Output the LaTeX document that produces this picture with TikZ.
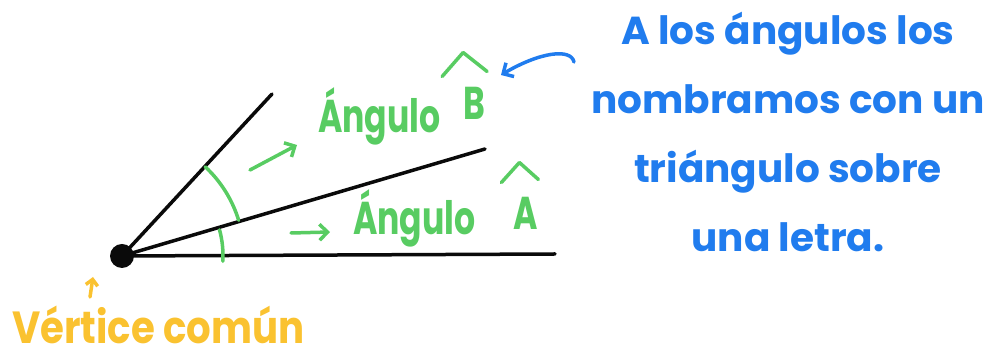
\documentclass[tikz,border=0pt]{standalone}
\usepackage{fontspec}
\newfontfamily\handfont{Poppins}
\newfontfamily\narrowhand[FakeStretch=0.72]{Poppins}
\newfontfamily\midhand[FakeStretch=0.86]{Poppins}
\usetikzlibrary{arrows.meta, positioning}
\definecolor{penblack}{RGB}{10,10,10}
\definecolor{pengreen}{RGB}{88,204,98}
\definecolor{penblue}{RGB}{32,124,238}
\definecolor{penyellow}{RGB}{250,194,48}

\begin{document}
\begin{tikzpicture}[x=1pt, y=1pt,
  every node/.style={inner sep=0pt},
  ray/.style={penblack, line width=3.5pt, line cap=round},
  anglearc/.style={pengreen, line width=3.5pt, line cap=round},
  hat/.style={line width=3.5pt, line cap=round, line join=round},
  pen/.style={line width=3.5pt, line cap=round, line join=round,
    -{Straight Barb[length=8pt, width=16pt]}},
  greentxt/.style={pengreen, font=\narrowhand\bfseries\fontsize{46}{52}\selectfont},
  bluetxt/.style={penblue, align=center, font=\handfont\bfseries\fontsize{39}{69}\selectfont},
  yellowtxt/.style={penyellow, font=\midhand\bfseries\fontsize{45}{52}\selectfont}]

\useasboundingbox (0,0) rectangle (997,358);

\node[circle, fill=penblack, minimum size=24pt] (V) at (122,102) {};
\coordinate (rayA) at (555,104);
\coordinate (rayM) at (485,209);
\coordinate (rayB) at (272,264);
\draw[ray] (V.center) -- (rayA);
\draw[ray] (V.center) -- (rayM);
\draw[ray] (V.center) -- (rayB);

\draw[anglearc] ([shift={(17:122)}]V.center) arc[start angle=17, end angle=47, radius=122];
\draw[anglearc] ([shift={(-3:101)}]V.center) arc[start angle=-3, end angle=15, radius=101];

\node[greentxt, anchor=base west] (angB) at (318,225) {Ángulo};
\node[greentxt, anchor=base west] (letB) at (463,238) {B};
\draw[pengreen, hat] ([shift={(-32,11)}]letB.north) -- ([shift={(-11,35)}]letB.north) -- ([shift={(13,16)}]letB.north);

\node[greentxt, anchor=base west] (angA) at (353,123) {Ángulo};
\node[greentxt, anchor=base west] (letA) at (513,128) {A};
\draw[pengreen, hat] ([shift={(-24,15)}]letA.north) -- ([shift={(-6,35)}]letA.north) -- ([shift={(13,18)}]letA.north);

\coordinate (tailB) at (250,188);
\coordinate (headB) at (297,213);
\coordinate (tailA) at (291,125);
\coordinate (headA) at (330,126);
\draw[pengreen, pen] (tailB) -- (headB);
\draw[pengreen, pen] (tailA) -- (headA);

\node[bluetxt, anchor=north] (note) at (788,346) {A los ángulos los\\nombramos con un\\triángulo sobre\\una letra.};
\coordinate (noteTail) at (574,296);
\coordinate (noteHead) at (501,283);
\draw[penblue, pen] (noteTail) .. controls (571,310) and (540,306) .. (noteHead);

\node[yellowtxt, anchor=base west] (common) at (12,14) {Vértice común};
\coordinate (vtxTail) at (90,61);
\coordinate (vtxHead) at (93,81);
\draw[penyellow, pen, -{Straight Barb[length=6pt, width=12pt]}] (vtxTail) -- (vtxHead);

\end{tikzpicture}
\end{document}
